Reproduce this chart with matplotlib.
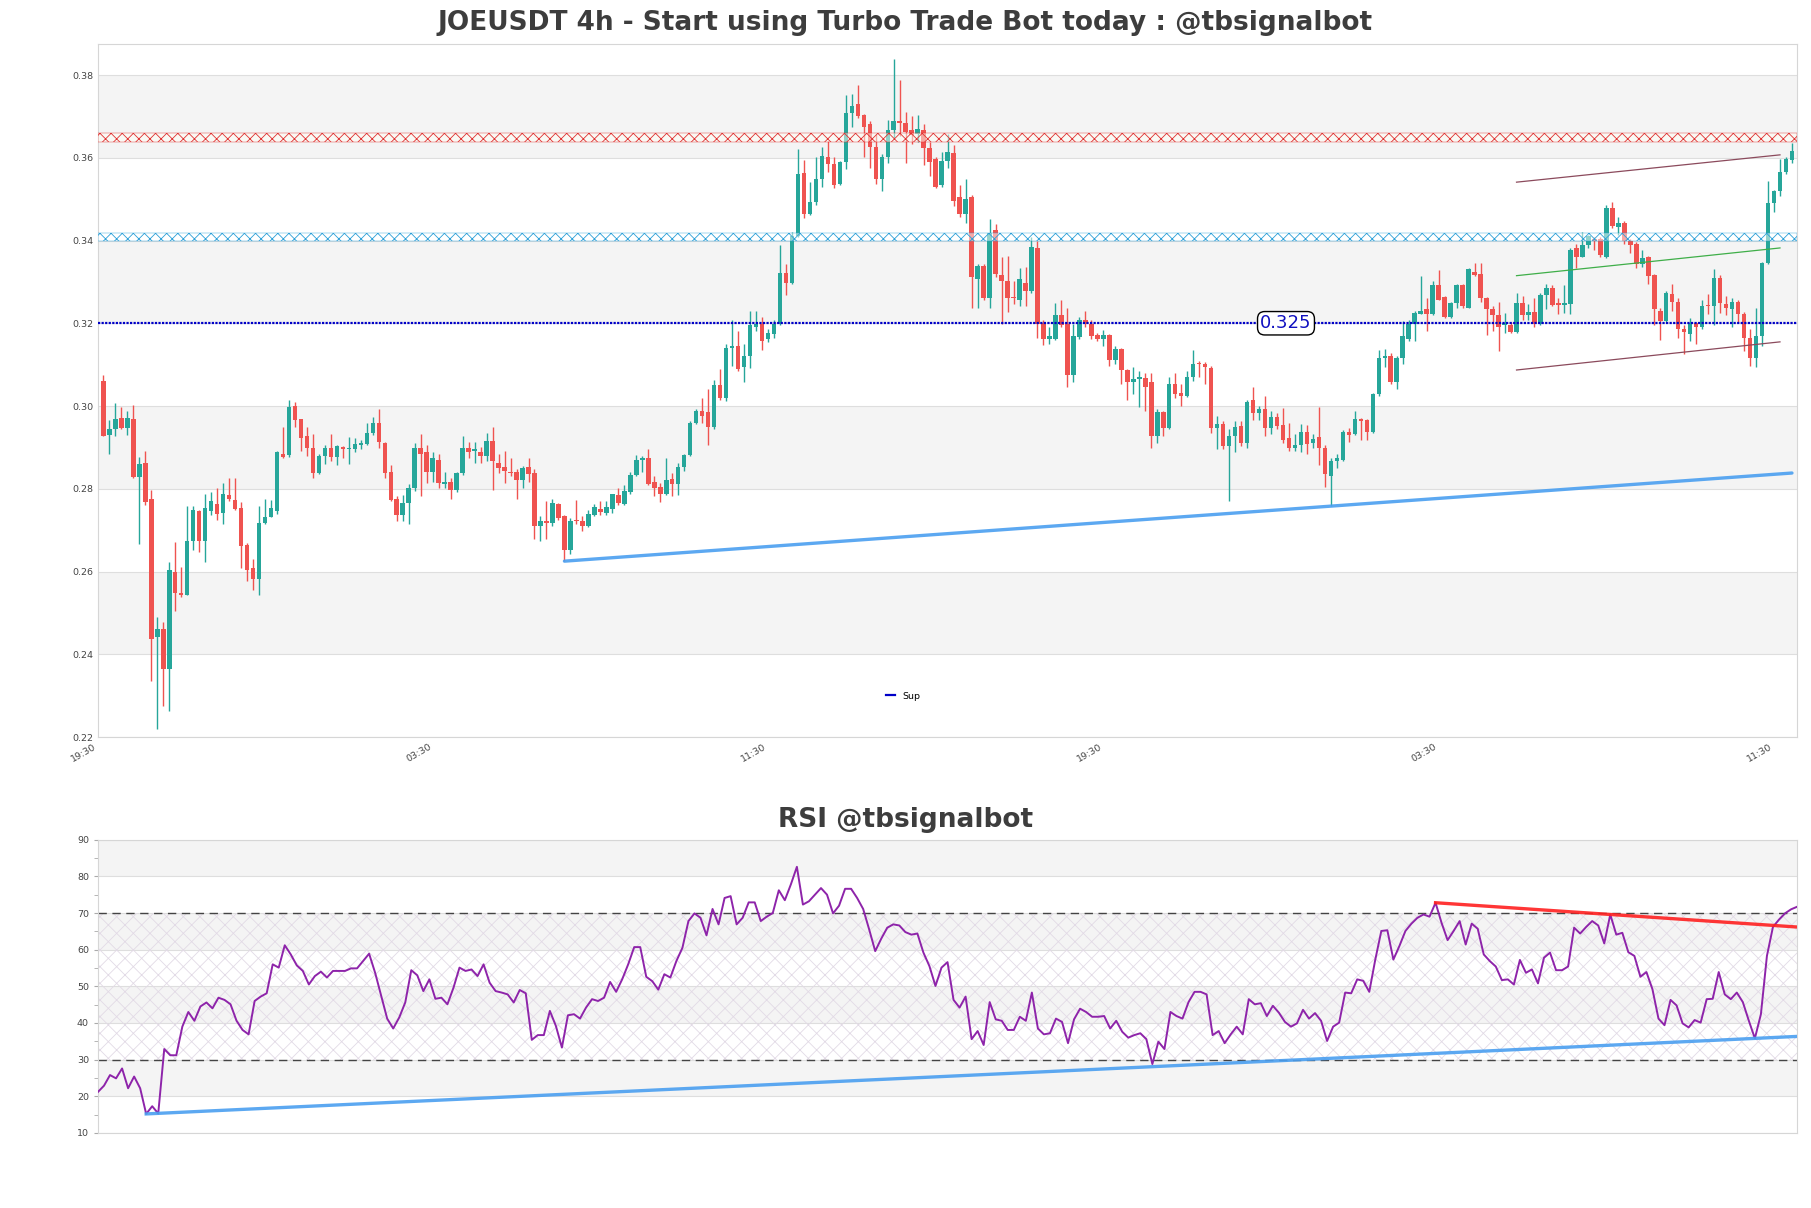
import numpy as np
import matplotlib
matplotlib.use("Agg")
import matplotlib.pyplot as plt

# OHLC, one candle per entry (283 candles)
opens = [
    .3061, .2929, .2944, .2971, .2948, .2968, .2829, .2863, .2776, .2442,
    .2460, .2365, .2600, .2549, .2544, .2674, .2747, .2674, .2747, .2764,
    .2741, .2784, .2773, .2754, .2665, .2609, .2582, .2717, .2732, .2747,
    .2885, .2881, .3000, .2968, .2928, .2898, .2838, .2879, .2898, .2877,
    .2901, .2896, .2896, .2905, .2909, .2935, .2959, .2911, .2841, .2775,
    .2736, .2765, .2803, .2898, .2888, .2841, .2870, .2812, .2816, .2798,
    .2838, .2898, .2892, .2888, .2879, .2916, .2863, .2852, .2841, .2841,
    .2820, .2852, .2838, .2710, .2722, .2717, .2762, .2733, .2652, .2725,
    .2722, .2711, .2736, .2751, .2741, .2751, .2784, .2762, .2792, .2834,
    .2870, .2874, .2816, .2805, .2787, .2823, .2812, .2852, .2881, .2960,
    .2987, .2985, .2949, .3050, .3020, .3141, .3144, .3095, .3122, .3192,
    .3198, .3162, .3173, .3198, .3322, .3298, .3411, .3562, .3463, .3492,
    .3549, .3603, .3584, .3536, .3590, .3708, .3731, .3703, .3681, .3625,
    .3549, .3601, .3668, .3690, .3685, .3666, .3657, .3668, .3623, .3598,
    .3533, .3592, .3612, .3504, .3465, .3506, .3306, .3338, .3260, .3425,
    .3317, .3303, .3263, .3257, .3298, .3279, .3382, .3201, .3162, .3162,
    .3220, .3198, .3076, .3167, .3209, .3198, .3171, .3162, .3171, .3111,
    .3138, .3087, .3057, .3065, .3068, .3057, .2928, .2985, .2946, .3052,
    .3032, .3025, .3071, .3104, .3101, .3093, .2946, .2957, .2903, .2928,
    .2952, .2911, .3014, .2982, .2992, .2946, .2974, .2955, .2922, .2898,
    .2906, .2938, .2911, .2924, .2898, .2831, .2866, .2870, .2938, .2933,
    .2968, .2965, .2938, .3028, .3117, .3122, .3057, .3115, .3162, .3198,
    .3223, .3234, .3223, .3292, .3263, .3214, .3249, .3292, .3238, .3324,
    .3320, .3260, .3234, .3220, .3195, .3195, .3180, .3249, .3220, .3227,
    .3198, .3268, .3284, .3249, .3244, .3247, .3382, .3360, .3389, .3403,
    .3403, .3360, .3479, .3432, .3443, .3400, .3392, .3344, .3360, .3317,
    .3230, .3205, .3270, .3252, .3187, .3173, .3201, .3190, .3244, .3241,
    .3309, .3247, .3234, .3252, .3223, .3165, .3115, .3169, .3346, .3490,
    .3519, .3565, .3595,
]
highs = [
    .3076, .2965, .3007, .2998, .2987, .3002, .2877, .2892, .2798, .2490,
    .2479, .2624, .2671, .2611, .2758, .2758, .2749, .2787, .2792, .2803,
    .2814, .2827, .2827, .2769, .2668, .2630, .2758, .2775, .2773, .2892,
    .2950, .3015, .3009, .2968, .2949, .2933, .2884, .2906, .2933, .2906,
    .2903, .2924, .2922, .2917, .2959, .2974, .2992, .2914, .2857, .2782,
    .2784, .2812, .2911, .2933, .2906, .2890, .2884, .2841, .2825, .2841,
    .2928, .2914, .2914, .2901, .2935, .2949, .2884, .2892, .2874, .2847,
    .2855, .2874, .2847, .2733, .2771, .2776, .2765, .2736, .2730, .2773,
    .2733, .2749, .2762, .2771, .2771, .2787, .2803, .2809, .2841, .2881,
    .2879, .2895, .2830, .2814, .2874, .2838, .2863, .2884, .2963, .2992,
    .3020, .3041, .3063, .3090, .3149, .3209, .3182, .3149, .3230, .3230,
    .3216, .3187, .3209, .3389, .3342, .3420, .3620, .3595, .3541, .3601,
    .3627, .3641, .3601, .3592, .3752, .3755, .3776, .3706, .3690, .3657,
    .3609, .3692, .3839, .3789, .3711, .3701, .3703, .3681, .3638, .3603,
    .3614, .3657, .3630, .3533, .3549, .3511, .3344, .3344, .3452, .3439,
    .3360, .3363, .3301, .3333, .3335, .3409, .3398, .3209, .3192, .3249,
    .3255, .3236, .3198, .3214, .3230, .3209, .3176, .3184, .3173, .3144,
    .3141, .3090, .3095, .3084, .3079, .3079, .2992, .2987, .3071, .3079,
    .3054, .3084, .3136, .3108, .3106, .3097, .2976, .2963, .2944, .2963,
    .2963, .3014, .3047, .3000, .3025, .2987, .2982, .2996, .2960, .2933,
    .2957, .2955, .2933, .2998, .2906, .2874, .2884, .2942, .2946, .2989,
    .2971, .2968, .3032, .3136, .3138, .3128, .3122, .3205, .3209, .3230,
    .3314, .3260, .3301, .3328, .3266, .3252, .3295, .3295, .3333, .3346,
    .3346, .3263, .3241, .3252, .3225, .3203, .3274, .3266, .3247, .3260,
    .3274, .3295, .3292, .3260, .3292, .3382, .3392, .3420, .3414, .3409,
    .3409, .3487, .3493, .3457, .3447, .3403, .3396, .3378, .3363, .3320,
    .3238, .3277, .3295, .3260, .3195, .3212, .3203, .3255, .3270, .3331,
    .3317, .3266, .3260, .3257, .3227, .3187, .3238, .3349, .3544, .3522,
    .3598, .3601, .3636,
]
lows = [
    .2927, .2885, .2927, .2944, .2931, .2825, .2667, .2760, .2336, .2220,
    .2276, .2263, .2505, .2538, .2542, .2652, .2647, .2622, .2736, .2725,
    .2715, .2771, .2749, .2609, .2576, .2555, .2544, .2715, .2732, .2738,
    .2874, .2877, .2949, .2892, .2879, .2827, .2836, .2860, .2868, .2857,
    .2874, .2860, .2890, .2895, .2906, .2931, .2898, .2827, .2771, .2722,
    .2722, .2715, .2795, .2782, .2814, .2816, .2803, .2803, .2776, .2792,
    .2834, .2874, .2863, .2863, .2868, .2798, .2838, .2814, .2830, .2776,
    .2801, .2816, .2679, .2673, .2679, .2711, .2725, .2625, .2643, .2715,
    .2697, .2708, .2733, .2736, .2736, .2741, .2760, .2760, .2787, .2830,
    .2841, .2809, .2782, .2769, .2784, .2782, .2784, .2844, .2879, .2957,
    .2960, .2906, .2944, .3014, .3011, .3097, .3084, .3057, .3093, .3182,
    .3136, .3155, .3165, .3195, .3268, .3295, .3409, .3454, .3461, .3487,
    .3530, .3565, .3528, .3533, .3573, .3674, .3695, .3601, .3576, .3536,
    .3519, .3587, .3647, .3652, .3587, .3634, .3638, .3582, .3555, .3528,
    .3530, .3576, .3484, .3457, .3443, .3238, .3238, .3257, .3238, .3311,
    .3198, .3227, .3247, .3241, .3241, .3274, .3165, .3147, .3149, .3160,
    .3192, .3047, .3057, .3162, .3192, .3162, .3158, .3144, .3097, .3101,
    .3054, .3014, .3030, .2998, .2987, .2898, .2911, .2928, .2944, .3020,
    .3000, .3022, .3061, .3071, .3054, .2935, .2895, .2895, .2771, .2890,
    .2903, .2898, .2965, .2965, .2928, .2933, .2944, .2911, .2892, .2892,
    .2890, .2884, .2898, .2857, .2805, .2758, .2849, .2868, .2914, .2931,
    .2917, .2917, .2935, .3025, .3095, .3054, .3041, .3101, .3158, .3158,
    .3223, .3182, .3220, .3255, .3212, .3212, .3236, .3238, .3236, .3314,
    .3252, .3171, .3182, .3133, .3176, .3176, .3176, .3209, .3209, .3192,
    .3195, .3234, .3241, .3223, .3225, .3223, .3333, .3360, .3382, .3376,
    .3360, .3357, .3430, .3414, .3392, .3371, .3333, .3335, .3295, .3195,
    .3160, .3201, .3230, .3165, .3125, .3158, .3149, .3187, .3223, .3195,
    .3225, .3220, .3192, .3203, .3133, .3097, .3095, .3144, .3344, .3468,
    .3508, .3560, .3587,
]
closes = [
    .2927, .2944, .2968, .2948, .2971, .2829, .2860, .2769, .2438, .2462,
    .2365, .2603, .2549, .2542, .2674, .2749, .2674, .2754, .2771, .2738,
    .2787, .2776, .2751, .2661, .2603, .2582, .2717, .2732, .2754, .2888,
    .2877, .2998, .2965, .2922, .2898, .2838, .2879, .2898, .2877, .2903,
    .2896, .2898, .2907, .2911, .2935, .2959, .2914, .2838, .2773, .2736,
    .2765, .2803, .2898, .2884, .2841, .2874, .2814, .2816, .2798, .2838,
    .2898, .2890, .2895, .2879, .2916, .2868, .2849, .2844, .2838, .2820,
    .2849, .2836, .2711, .2722, .2717, .2765, .2730, .2652, .2722, .2721,
    .2711, .2738, .2755, .2744, .2755, .2787, .2765, .2795, .2834, .2870,
    .2874, .2812, .2803, .2787, .2820, .2812, .2852, .2881, .2960, .2987,
    .2976, .2949, .3050, .3020, .3141, .3144, .3090, .3122, .3195, .3198,
    .3158, .3176, .3198, .3322, .3298, .3411, .3560, .3463, .3492, .3549,
    .3605, .3584, .3533, .3590, .3709, .3724, .3701, .3674, .3625, .3549,
    .3601, .3668, .3688, .3684, .3663, .3655, .3670, .3623, .3590, .3530,
    .3592, .3614, .3495, .3465, .3501, .3311, .3338, .3260, .3417, .3320,
    .3301, .3260, .3260, .3306, .3279, .3385, .3198, .3162, .3169, .3220,
    .3195, .3076, .3169, .3209, .3198, .3169, .3162, .3171, .3111, .3138,
    .3087, .3057, .3065, .3071, .3047, .2928, .2985, .2946, .3052, .3030,
    .3025, .3071, .3101, .3101, .3095, .2946, .2957, .2903, .2928, .2949,
    .2911, .3009, .2982, .2992, .2946, .2974, .2952, .2917, .2898, .2906,
    .2938, .2909, .2920, .2898, .2836, .2866, .2874, .2938, .2931, .2968,
    .2963, .2938, .3028, .3117, .3122, .3057, .3115, .3169, .3198, .3225,
    .3230, .3223, .3292, .3257, .3214, .3249, .3292, .3241, .3331, .3317,
    .3260, .3234, .3220, .3192, .3201, .3180, .3249, .3220, .3227, .3198,
    .3268, .3284, .3244, .3244, .3249, .3376, .3360, .3389, .3411, .3398,
    .3365, .3479, .3436, .3443, .3400, .3389, .3344, .3358, .3314, .3234,
    .3205, .3274, .3252, .3187, .3180, .3201, .3190, .3241, .3241, .3309,
    .3249, .3236, .3252, .3223, .3165, .3115, .3169, .3346, .3490, .3519,
    .3565, .3598, .3616,
]

# RSI line, one value per candle
rsi = [
    21.2, 22.9, 25.8, 24.9, 27.6, 22.2, 25.4, 22.2, 15.2, 17.3,
    15.3, 32.9, 31.2, 31.2, 39.0, 43.0, 40.6, 44.5, 45.6, 44.0,
    46.9, 46.3, 45.1, 40.6, 38.1, 36.9, 46.0, 47.2, 48.1, 56.0,
    55.1, 61.2, 58.7, 55.7, 54.2, 50.5, 52.8, 54.0, 52.4, 54.2,
    54.2, 54.2, 54.9, 54.9, 56.9, 58.9, 53.7, 47.4, 41.2, 38.5,
    41.5, 45.6, 54.4, 53.0, 48.7, 51.9, 46.6, 46.9, 45.1, 49.6,
    55.1, 54.2, 54.6, 52.8, 56.0, 51.0, 48.7, 48.3, 47.8, 45.6,
    49.0, 48.1, 35.4, 36.7, 36.7, 43.3, 39.2, 33.3, 42.1, 42.4,
    41.2, 44.2, 46.5, 46.0, 46.9, 51.2, 48.5, 51.9, 56.0, 60.7,
    60.7, 52.6, 51.4, 49.1, 53.3, 52.4, 56.9, 60.5, 67.8, 69.9,
    68.7, 63.9, 71.1, 66.9, 74.1, 74.6, 66.9, 68.7, 72.9, 72.9,
    67.8, 69.0, 70.0, 76.2, 73.5, 77.8, 82.6, 72.3, 73.2, 75.0,
    76.8, 75.0, 69.9, 72.0, 76.6, 76.6, 74.1, 71.1, 65.5, 59.6,
    63.0, 66.0, 66.9, 66.6, 64.8, 64.1, 64.4, 59.2, 55.5, 50.1,
    55.1, 56.6, 46.3, 44.2, 47.2, 35.6, 37.8, 34.0, 45.7, 41.0,
    40.6, 38.1, 38.1, 41.7, 40.6, 48.3, 38.5, 36.9, 37.2, 41.2,
    40.3, 34.5, 41.0, 43.9, 43.0, 41.7, 41.7, 41.9, 38.5, 40.6,
    37.6, 36.0, 36.7, 37.2, 35.6, 28.8, 34.9, 32.9, 43.0, 41.9,
    41.2, 45.7, 48.5, 48.5, 47.8, 36.7, 37.8, 34.5, 36.9, 39.0,
    36.9, 46.5, 45.1, 45.4, 41.9, 44.7, 42.8, 40.3, 39.0, 39.9,
    43.6, 41.2, 42.7, 40.6, 35.1, 39.0, 40.1, 48.3, 48.1, 51.9,
    51.5, 48.5, 57.3, 65.1, 65.3, 57.3, 61.0, 65.1, 67.1, 68.7,
    69.6, 69.0, 72.8, 67.3, 62.6, 65.1, 67.8, 61.4, 67.1, 65.7,
    58.7, 56.9, 55.4, 51.7, 51.9, 50.5, 57.2, 53.7, 54.6, 50.8,
    57.8, 59.2, 54.4, 54.4, 55.4, 66.0, 64.4, 66.2, 67.8, 66.6,
    61.7, 69.6, 64.1, 64.6, 59.3, 58.3, 52.6, 53.9, 49.2, 41.2,
    39.4, 46.3, 44.8, 39.9, 38.8, 40.8, 40.1, 46.5, 46.6, 53.9,
    47.8, 46.5, 48.3, 45.7, 40.6, 35.8, 42.4, 58.3, 66.2, 68.2,
    69.9, 71.0, 71.7,
]

time_ticks = [-0.9, 55, 111, 167, 223, 279]
time_labels = ["19:30", "03:30", "11:30", "19:30", "03:30", "11:30"]

res_zone = [0.3638, 0.3660]
sup_zone = [0.3398, 0.3417]
sup_level = 0.320
sup_text = "0.325"
sup_text_x = 197.5

# candle pairs the trend lines run through
price_trend = [77, 205]
rsi_up_trend = [8, 275]
rsi_down_trend = [222, 251]

channel_x = [236, 280]
channel_top = [0.3541, 0.3607]
channel_mid = [0.3315, 0.3382]
channel_bot = [0.3087, 0.3155]

GREEN = "#26a69a"
RED = "#ef5350"
BAND = "#f4f4f4"
GRID = "#dedede"


def trend(x0, y0, x1, y1, x_end):
    k = (y1 - y0) / (x1 - x0)
    return [x0, x_end], [y0, y0 + k * (x_end - x0)]


o = np.array(opens)
h = np.array(highs)
l = np.array(lows)
c = np.array(closes)
x = np.arange(len(o))
n = len(o)

fig = plt.figure(figsize=(18.11, 12.08), dpi=100)
ax = fig.add_axes([0.0541, 0.3899, 0.9382, 0.5737])
ax2 = fig.add_axes([0.0541, 0.0621, 0.9382, 0.2428])

# ---- price panel
ax.set_xlim(-0.9, n - 0.15)
ax.set_ylim(0.22, 0.3875)
yt = np.arange(0.22, 0.381, 0.02)
for k, v in enumerate(yt[:-1]):
    if k % 2 == 1:
        ax.axhspan(v, v + 0.02, color=BAND, zorder=0, lw=0)
for v in yt:
    ax.axhline(v, color=GRID, lw=0.8, zorder=0.5)

cols = np.where(c >= o, GREEN, RED)
ax.vlines(x, l, h, colors=cols, lw=1.0, zorder=2)
ax.bar(x, np.maximum(np.abs(c - o), 0.00025), bottom=np.minimum(o, c),
       width=0.76, color=cols, lw=0, zorder=3)

plt.rcParams["hatch.linewidth"] = 0.6
ax.axhspan(res_zone[0], res_zone[1], facecolor=(1, 1, 0.96, 0.5),
           edgecolor="#e03030", hatch="xxx", lw=0.3, zorder=4)
ax.axhspan(sup_zone[0], sup_zone[1], facecolor=(1, 1, 1, 0.5),
           edgecolor="#2a9fd8", hatch="xxx", lw=0.3, zorder=4)

ax.axhline(sup_level, color="#0000c8", lw=1.6, ls=(0, (1, 0.6)), zorder=5,
           label="Sup")
ax.text(sup_text_x, sup_level, sup_text, color="#1010c0", fontsize=13,
        ha="center", va="center", zorder=6,
        bbox=dict(boxstyle="round,pad=0.15,rounding_size=0.4", fc="white",
                  ec="black", lw=1))

tx, ty = trend(price_trend[0], l[price_trend[0]], price_trend[1],
               l[price_trend[1]], n - 1)
ax.plot(tx, ty, color="#4a9ff0", lw=2.4, alpha=0.9, zorder=5,
        solid_capstyle="round")

ax.plot(channel_x, channel_top, color="#8b4a5c", lw=0.9, zorder=5)
ax.plot(channel_x, channel_mid, color="#3fae49", lw=0.9, zorder=5)
ax.plot(channel_x, channel_bot, color="#8b4a5c", lw=0.9, zorder=5)

ax.set_yticks(yt)
ax.set_yticklabels([f"{v:.2f}" for v in yt])
ax.set_xticks(time_ticks)
ax.set_xticklabels(time_labels, rotation=30, ha="right")
ax.tick_params(axis="both", labelsize=6.8, colors="#444444", length=0)
for s in ax.spines.values():
    s.set_color("#d6d6d6")

leg = ax.legend(loc="center", bbox_to_anchor=(0.474, 0.059), frameon=False,
                fontsize=6.8, handlelength=1.0, handletextpad=0.8)
for hl in leg.get_lines():
    hl.set_linestyle("-")

# ---- RSI panel
r = np.array(rsi)
ax2.set_xlim(0, len(r) - 1)
ax2.set_ylim(10, 90)
for v in (20, 40, 60, 80):
    ax2.axhspan(v, v + 10, color=BAND, zorder=0, lw=0)
for v in range(10, 91, 10):
    ax2.axhline(v, color=GRID, lw=0.8, zorder=0.5)
ax2.axhspan(30, 70, facecolor="none", edgecolor="#e2dae6", hatch="xx",
            lw=0, zorder=0.6)
ax2.axhline(70, color="#444444", lw=1.0, ls=(0, (6, 4)), zorder=2)
ax2.axhline(30, color="#444444", lw=1.0, ls=(0, (6, 4)), zorder=2)

ax2.plot(np.arange(len(r)), r, color="#8e24aa", lw=1.4, zorder=3)

tx, ty = trend(rsi_up_trend[0], r[rsi_up_trend[0]], rsi_up_trend[1],
               r[rsi_up_trend[1]], len(r) - 1)
ax2.plot(tx, ty, color="#4a9ff0", lw=2.4, alpha=0.9, zorder=4)
tx, ty = trend(rsi_down_trend[0], r[rsi_down_trend[0]], rsi_down_trend[1],
               r[rsi_down_trend[1]], len(r) - 1)
ax2.plot(tx, ty, color="#ff2020", lw=2.4, alpha=0.9, zorder=4)

ax2.set_yticks(range(10, 91, 10))
ax2.set_yticks(range(15, 90, 10), minor=True)
ax2.set_xticks([])
ax2.tick_params(axis="y", which="both", labelsize=6.8, colors="#444444",
                length=3, color="#aaaaaa")
for s in ax2.spines.values():
    s.set_color("#d6d6d6")

fig.text(0.5, 0.981, "JOEUSDT 4h - Start using Turbo Trade Bot today : @tbsignalbot",
         ha="center", va="center", fontsize=19, fontweight="bold", color="#3d3d3d")
fig.text(0.5, 0.3212, "RSI @tbsignalbot", ha="center", va="center",
         fontsize=19, fontweight="bold", color="#3d3d3d")

fig.savefig("out.png", dpi=100)
